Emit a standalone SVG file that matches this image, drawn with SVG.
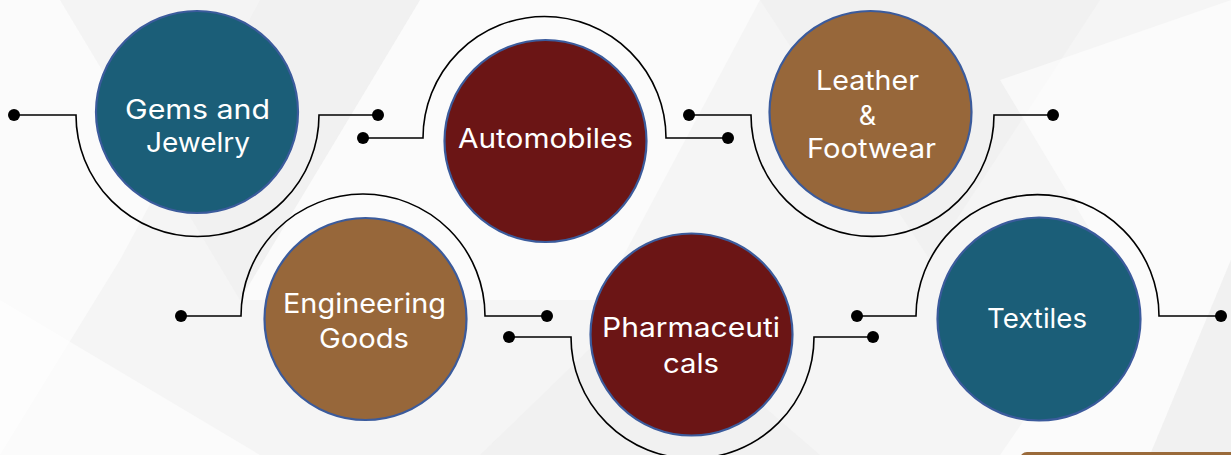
<svg xmlns="http://www.w3.org/2000/svg" width="1231" height="455" viewBox="0 0 1231 455">
  <style>
    .bg-band { fill: #ffffff; opacity: 0.55; }
    .bg-shade { fill: #ebebeb; opacity: 0.4; }
    .wire { fill: none; stroke: #000000; stroke-width: 1.6; }
    .pin { fill: #000000; }
    .disc { stroke: #3b5b9c; stroke-width: 2.2; }
    .teal { fill: #1b5e78; }
    .maroon { fill: #6b1515; }
    .brown { fill: #97673a; }
    .label { font-family: Inter, "Open Sans", "Liberation Sans", sans-serif; font-size: 27px; fill: #ffffff; text-anchor: middle; }
  </style>

  <!-- soft faceted backdrop -->
  <rect x="0" y="0" width="1231" height="455" fill="#f5f5f5"/>
  <polygon class="bg-band" points="0,0 260,0 120,260 0,455"/>
  <polygon class="bg-shade" points="60,0 420,0 240,300"/>
  <polygon class="bg-band" points="420,0 760,0 600,300 240,300"/>
  <polygon class="bg-shade" points="760,0 1100,0 930,260"/>
  <polygon class="bg-band" points="1000,80 1231,0 1231,260 1150,455 1000,455 1120,280"/>
  <polygon class="bg-shade" points="1231,260 1231,455 1150,455"/>
  <polygon class="bg-band" points="0,300 260,455 0,455"/>
  <polygon class="bg-shade" points="480,455 640,300 820,455"/>

  <!-- connectors -->
  <g id="connectors">
    <path class="wire" d="M14,115 H76 A121.5,121.5 0 0 0 319,115 H378"/>
    <path class="wire" d="M363,138 H423 A121.5,121.5 0 0 1 666,138 H728"/>
    <path class="wire" d="M689,115 H751 A121.5,121.5 0 0 0 994,115 H1053"/>
    <path class="wire" d="M181,316 H241 A122,122 0 0 1 485,316 H547"/>
    <path class="wire" d="M509,337 H571 A121.5,121.5 0 0 0 814,337 H873"/>
    <path class="wire" d="M857,316 H916 A121.5,121.5 0 0 1 1159,316 H1221"/>
    <circle class="pin" cx="14" cy="115" r="6"/>
    <circle class="pin" cx="378" cy="115" r="6"/>
    <circle class="pin" cx="363" cy="138" r="6"/>
    <circle class="pin" cx="728" cy="138" r="6"/>
    <circle class="pin" cx="689" cy="115" r="6"/>
    <circle class="pin" cx="1053" cy="115" r="6"/>
    <circle class="pin" cx="181" cy="316" r="6"/>
    <circle class="pin" cx="547" cy="316" r="6"/>
    <circle class="pin" cx="509" cy="337" r="6"/>
    <circle class="pin" cx="873" cy="337" r="6"/>
    <circle class="pin" cx="857" cy="316" r="6"/>
    <circle class="pin" cx="1221" cy="316" r="6"/>
  </g>

  <g id="gems-jewelry">
    <circle class="disc teal" cx="197" cy="112" r="101"/>
    <text class="label" x="197.5" y="119" textLength="145" lengthAdjust="spacingAndGlyphs">Gems and</text>
    <text class="label" x="198" y="152" textLength="104" lengthAdjust="spacingAndGlyphs">Jewelry</text>
  </g>

  <g id="automobiles">
    <circle class="disc maroon" cx="545.5" cy="141" r="101"/>
    <text class="label" x="545.5" y="148" textLength="175" lengthAdjust="spacingAndGlyphs">Automobiles</text>
  </g>

  <g id="leather-footwear">
    <circle class="disc brown" cx="870.5" cy="112" r="101"/>
    <text class="label" x="867.5" y="90" textLength="103" lengthAdjust="spacingAndGlyphs">Leather</text>
    <text class="label" x="867.5" y="125">&amp;</text>
    <text class="label" x="871.5" y="158" textLength="129" lengthAdjust="spacingAndGlyphs">Footwear</text>
  </g>

  <g id="engineering-goods">
    <circle class="disc brown" cx="365.5" cy="319" r="101"/>
    <text class="label" x="364.5" y="313" textLength="163" lengthAdjust="spacingAndGlyphs">Engineering</text>
    <text class="label" x="364" y="348" textLength="90" lengthAdjust="spacingAndGlyphs">Goods</text>
  </g>

  <g id="pharmaceuticals">
    <circle class="disc maroon" cx="691.5" cy="334.5" r="101"/>
    <text class="label" x="691" y="337" textLength="178" lengthAdjust="spacingAndGlyphs">Pharmaceuti</text>
    <text class="label" x="691" y="373" textLength="56" lengthAdjust="spacingAndGlyphs">cals</text>
  </g>

  <g id="textiles">
    <circle class="disc teal" cx="1039" cy="319" r="101.5"/>
    <text class="label" x="1037" y="328" textLength="100" lengthAdjust="spacingAndGlyphs">Textiles</text>
  </g>

  <!-- footer tab -->
  <rect x="1020" y="452" width="230" height="20" rx="7" fill="#9a6a3a"/>
</svg>
